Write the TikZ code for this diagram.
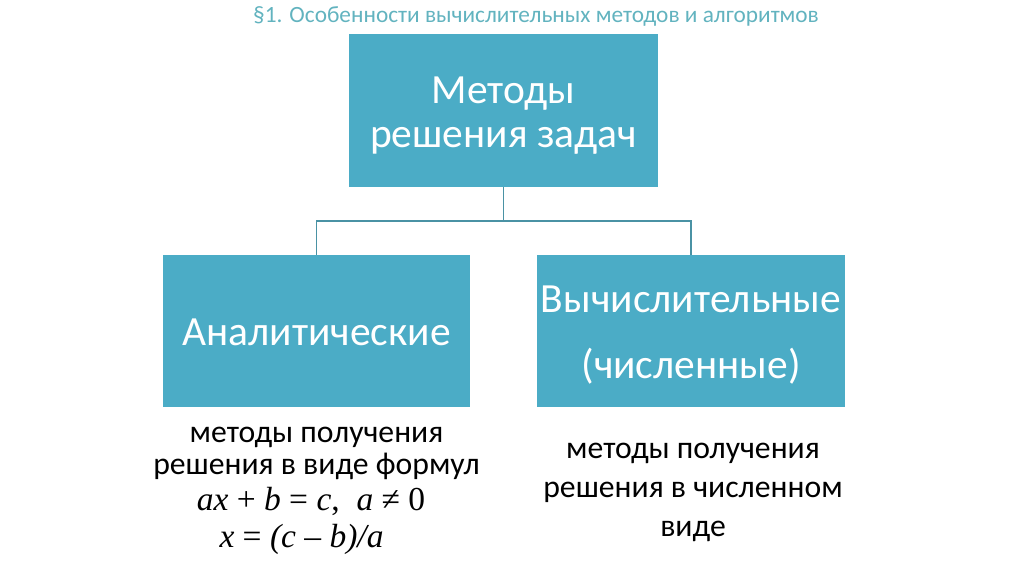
\documentclass[tikz,border=0pt]{standalone}
\usepackage{fontspec}
\setmainfont{Carlito}
\newfontfamily\tnr{Liberation Serif}
\definecolor{boxfill}{HTML}{4BACC6}
\definecolor{linecol}{HTML}{4A92A4}
\definecolor{titlecol}{HTML}{62B3BF}
\tikzset{
  bluebox/.style={draw=none, fill=none, inner sep=0pt},
  boxtext/.style={text=white, align=center, inner sep=0pt},
  conn/.style={draw=linecol, line width=1.2pt},
  desc/.style={align=center, text=black, inner sep=0pt},
  mathline/.style={text=black, inner sep=0pt, font=\tnr\fontsize{33.5}{37}\selectfont}
}
\begin{document}
\begin{tikzpicture}[x=1pt,y=-1pt]
\useasboundingbox (0,0) rectangle (1024,574);
\node[text=titlecol, font=\fontsize{23.3}{26}\selectfont] (title) at (536,16) {§1. Особенности вычислительных методов и алгоритмов};
\path[fill=boxfill] (349,34) rectangle (658,187);
\path[fill=boxfill] (163,255) rectangle (470,407);
\path[fill=boxfill] (537,255) rectangle (845,407);
\node[bluebox, minimum width=309pt, minimum height=153pt] (top) at (503.5,110.5) {};
\node[bluebox, minimum width=307pt, minimum height=152pt] (left) at (316.5,331) {};
\node[bluebox, minimum width=308pt, minimum height=152pt] (right) at (691,331) {};
\node[boxtext, font=\fontsize{41.5}{44}\selectfont] (toptext) at (503.5,116) {Методы\\решения задач};
\node[boxtext, font=\fontsize{41.5}{44}\selectfont] (lefttext) at (316.5,332) {Аналитические};
\node[boxtext, font=\fontsize{41.5}{66}\selectfont] (righttext) at (691,335) {Вычислительные\\(численные)};
\coordinate (mid) at (503.5,221);
\draw[conn] (top.south) -- (mid);
\draw[conn] (left.north) |- (mid) -| (right.north);
\node[desc, font=\fontsize{31.7}{32}\selectfont] (ldesc) at (316.5,453) {методы получения\\решения в виде формул};
\node[mathline, anchor=base] (math1) at (311,510) {\itshape ax\upshape{} + \itshape b\upshape{} = \itshape c\upshape,\ \ \itshape a\upshape{} ≠ 0};
\node[mathline, anchor=base] (math2) at (301.5,547) {\itshape x\upshape{} = \itshape(c – b)/a};
\node[desc, font=\fontsize{31.7}{39}\selectfont] (rdesc) at (693,492) {методы получения\\решения в численном\\виде};
\end{tikzpicture}
\end{document}
